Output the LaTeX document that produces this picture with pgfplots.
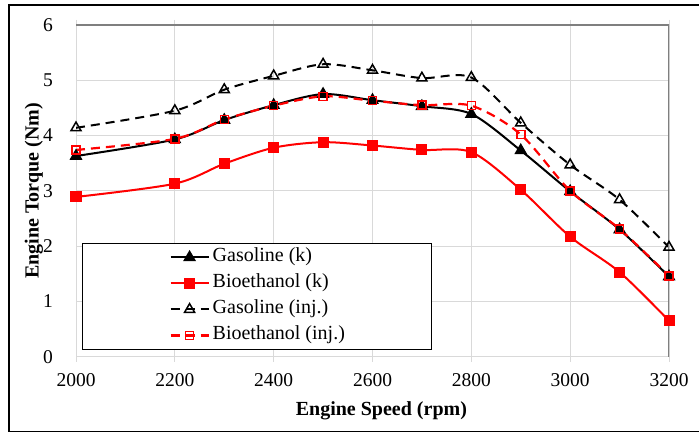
\documentclass[border=0pt]{standalone}
\usepackage{fontspec}
\setmainfont{Liberation Serif}
\usepackage{pgfplots}
\pgfplotsset{compat=1.18}

\definecolor{gridgray}{HTML}{D9D9D9}
\definecolor{edgegray}{HTML}{7F7F7F}
\definecolor{xlred}{HTML}{FF0000}

\begin{document}
\begin{tikzpicture}
\useasboundingbox (0bp,0bp) rectangle (699bp,434bp);
% outer frame round the figure (its right side runs off the page)
\draw[line width=1.6bp] (702bp,429bp) -- (9bp,429bp) -- (9bp,2.5bp) -- (702bp,2.5bp);

\begin{axis}[
  at={(76bp,77.3bp)}, anchor=south west,
  scale only axis, width=593bp, height=331.7bp,
  xmin=2000, xmax=3200, ymin=0, ymax=6,
  xtick={2000,2200,...,3200}, ytick={0,1,...,6},
  grid=major,
  major grid style={draw=gridgray, line width=1bp},
  axis line style={draw=gridgray, line width=1bp},
  xtick style={draw=gridgray, line width=1bp},
  major tick length=5bp, tick align=outside,
  ytick style={draw=none},
  /pgf/number format/assume math mode=true,
  /pgf/number format/1000 sep={},
  tick label style={font=\fontsize{19.5bp}{23bp}\selectfont},
  yticklabel style={inner sep=0pt, xshift=-18bp},
  xticklabel style={inner sep=0pt, yshift=-12bp},
  xlabel={Engine Speed (rpm)},
  ylabel={Engine Torque (Nm)},
  label style={font=\fontsize{20bp}{24bp}\selectfont\bfseries},
  x label style={at={(axis description cs:0.515,-0.163)}, anchor=center},
  y label style={at={(axis description cs:-0.071,0.5)}, anchor=center, rotate=0},
  legend cell align=left,
  legend style={
    at={(axis description cs:0.0101,0.343)}, anchor=north west,
    draw=black, line width=1bp, fill=white,
    font=\fontsize{20bp}{24bp}\selectfont,
    inner xsep=87bp, inner ysep=4.5bp,
    nodes={inner sep=0pt, text height=14bp, text depth=5bp},
    row sep=7bp,
    /tikz/every odd column/.append style={column sep=3bp},
  },
  legend image code/.code={
    \draw[mark repeat=2, mark phase=2, #1]
      plot coordinates {(0bp,0bp) (19bp,0bp) (38bp,0bp)};
  },
]

% Gasoline, carburettor kit
\addplot[black, line width=2bp, smooth, tension=0.5,
  mark=triangle*, mark size=5.5bp, mark options={solid, fill=black}]
  coordinates {(2000,3.63)(2200,3.93)(2300,4.28)(2400,4.55)(2500,4.75)(2600,4.64)
               (2700,4.53)(2800,4.39)(2900,3.73)(3000,2.99)(3100,2.30)(3200,1.45)};
\addlegendentry{Gasoline (k)}

% Bioethanol, carburettor kit
\addplot[xlred, line width=2bp, smooth, tension=0.5,
  mark=square*, mark size=4.5bp, mark options={solid, fill=xlred}]
  coordinates {(2000,2.89)(2200,3.13)(2300,3.49)(2400,3.78)(2500,3.88)(2600,3.82)
               (2700,3.74)(2800,3.70)(2900,3.02)(3000,2.17)(3100,1.53)(3200,0.65)};
\addlegendentry{Bioethanol (k)}

% Gasoline, injection
\addplot[black, line width=2bp, dash pattern=on 9bp off 6bp, smooth, tension=0.5,
  mark=triangle, mark size=5.8bp, mark options={solid, fill=white, line width=1.5bp}]
  coordinates {(2000,4.14)(2200,4.45)(2300,4.83)(2400,5.08)(2500,5.29)(2600,5.18)
               (2700,5.04)(2800,5.05)(2900,4.23)(3000,3.47)(3100,2.84)(3200,1.98)};
\addlegendentry{Gasoline (inj.)}

% Bioethanol, injection
\addplot[xlred, line width=2.2bp, dash pattern=on 9bp off 6bp, smooth, tension=0.5,
  mark=square, mark size=4bp, mark options={solid, fill=white, line width=1.5bp}]
  coordinates {(2000,3.74)(2200,3.94)(2300,4.29)(2400,4.54)(2500,4.71)(2600,4.63)
               (2700,4.55)(2800,4.54)(2900,4.02)(3000,3.00)(3100,2.31)(3200,1.46)};
\addlegendentry{Bioethanol (inj.)}

% darker top and right edges of the plot area
\draw[edgegray, line width=2bp] (rel axis cs:0,1) -- (rel axis cs:1,1) -- (rel axis cs:1,0);
\end{axis}
\end{tikzpicture}
\end{document}
